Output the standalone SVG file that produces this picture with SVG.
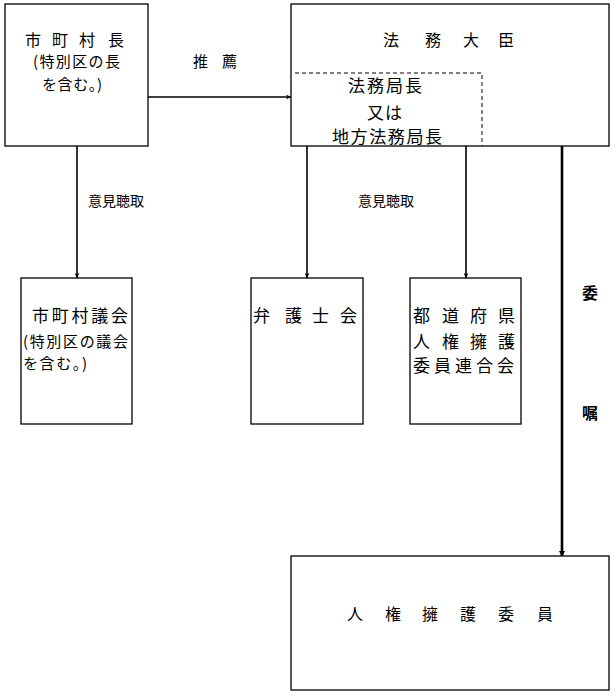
<svg xmlns="http://www.w3.org/2000/svg" width="615" height="696" viewBox="0 0 615 696">
<style>
.box{fill:#fff;stroke:#000;stroke-width:1.3}
.t{font-family:"Noto Sans CJK JP","Noto Sans CJK SC",sans-serif;fill:#000}
.ln{stroke:#000;stroke-width:1.6;fill:none}
</style>
<defs>
<marker id="ah" viewBox="0 0 10 10" refX="10" refY="5" markerWidth="5" markerHeight="5" orient="auto" markerUnits="userSpaceOnUse">
<path d="M0,0 L10,5 L0,10 L3,5 z" fill="#000"/>
</marker>
<marker id="ah2" viewBox="0 0 10 10" refX="10" refY="5" markerWidth="6" markerHeight="6" orient="auto" markerUnits="userSpaceOnUse">
<path d="M0,0 L10,5 L0,10 z" fill="#000"/>
</marker>
</defs>
<rect width="615" height="696" fill="#fff"/>
<g id="connectors">
<line class="ln" x1="148" y1="97" x2="291" y2="97" marker-end="url(#ah)"/>
<line class="ln" x1="77" y1="146" x2="77" y2="278" marker-end="url(#ah)"/>
<line class="ln" x1="307" y1="146" x2="307" y2="278" marker-end="url(#ah)"/>
<line class="ln" x1="466" y1="146" x2="466" y2="278" marker-end="url(#ah)"/>
<line x1="562" y1="146" x2="562" y2="557" stroke="#000" stroke-width="2.6" marker-end="url(#ah2)"/>
<text class="t" font-size="15" x="193 222" y="67">推薦</text>
<text class="t" font-size="14" x="88" y="206">意見聴取</text>
<text class="t" font-size="14" x="358" y="206">意見聴取</text>
<text class="t" font-size="16" font-weight="bold" x="582" y="299">委</text>
<text class="t" font-size="16" font-weight="bold" x="582" y="419">嘱</text>
</g>
<g id="shichosoncho">
<rect class="box" x="5" y="4" width="143" height="142"/>
<text class="t" font-size="16" x="25 52 79 108" y="46">市町村長</text>
<text class="t" font-size="15" x="33" y="67" textLength="87" lengthAdjust="spacing">(特別区の長</text>
<text class="t" font-size="15" x="42" y="90" textLength="60" lengthAdjust="spacing">を含む。)</text>
</g>
<g id="homudaijin">
<rect class="box" x="291" y="4" width="318" height="142"/>
<text class="t" font-size="16" x="383 425 463 498" y="46">法務大臣</text>
<path d="M295,73 H482 V146" fill="none" stroke="#000" stroke-width="1" stroke-dasharray="4,3"/>
<text class="t" font-size="17" x="348" y="92" textLength="74" lengthAdjust="spacing">法務局長</text>
<text class="t" font-size="17" x="367" y="119" textLength="35" lengthAdjust="spacing">又は</text>
<text class="t" font-size="17" x="332" y="143" textLength="110" lengthAdjust="spacing">地方法務局長</text>
</g>
<g id="gikai">
<rect class="box" x="21" y="278" width="111" height="146"/>
<text class="t" font-size="17" x="32" y="322" textLength="96" lengthAdjust="spacing">市町村議会</text>
<text class="t" font-size="15" x="23" y="347" textLength="105" lengthAdjust="spacing">(特別区の議会</text>
<text class="t" font-size="15" x="23" y="369" textLength="64" lengthAdjust="spacing">を含む。)</text>
</g>
<g id="bengoshikai">
<rect class="box" x="251" y="278" width="112" height="146"/>
<text class="t" font-size="17" x="253 285 312 340" y="322">弁護士会</text>
</g>
<g id="rengokai">
<rect class="box" x="410" y="278" width="111" height="146"/>
<text class="t" font-size="17" x="413 442 470 498" y="322">都道府県</text>
<text class="t" font-size="17" x="413 442 470 498" y="348">人権擁護</text>
<text class="t" font-size="17" x="413 434 455 476 497" y="372">委員連合会</text>
</g>
<g id="iin">
<rect class="box" x="291" y="556" width="318" height="134"/>
<text class="t" font-size="16" x="347 385 422 460 498 537" y="620">人権擁護委員</text>
</g>
</svg>
